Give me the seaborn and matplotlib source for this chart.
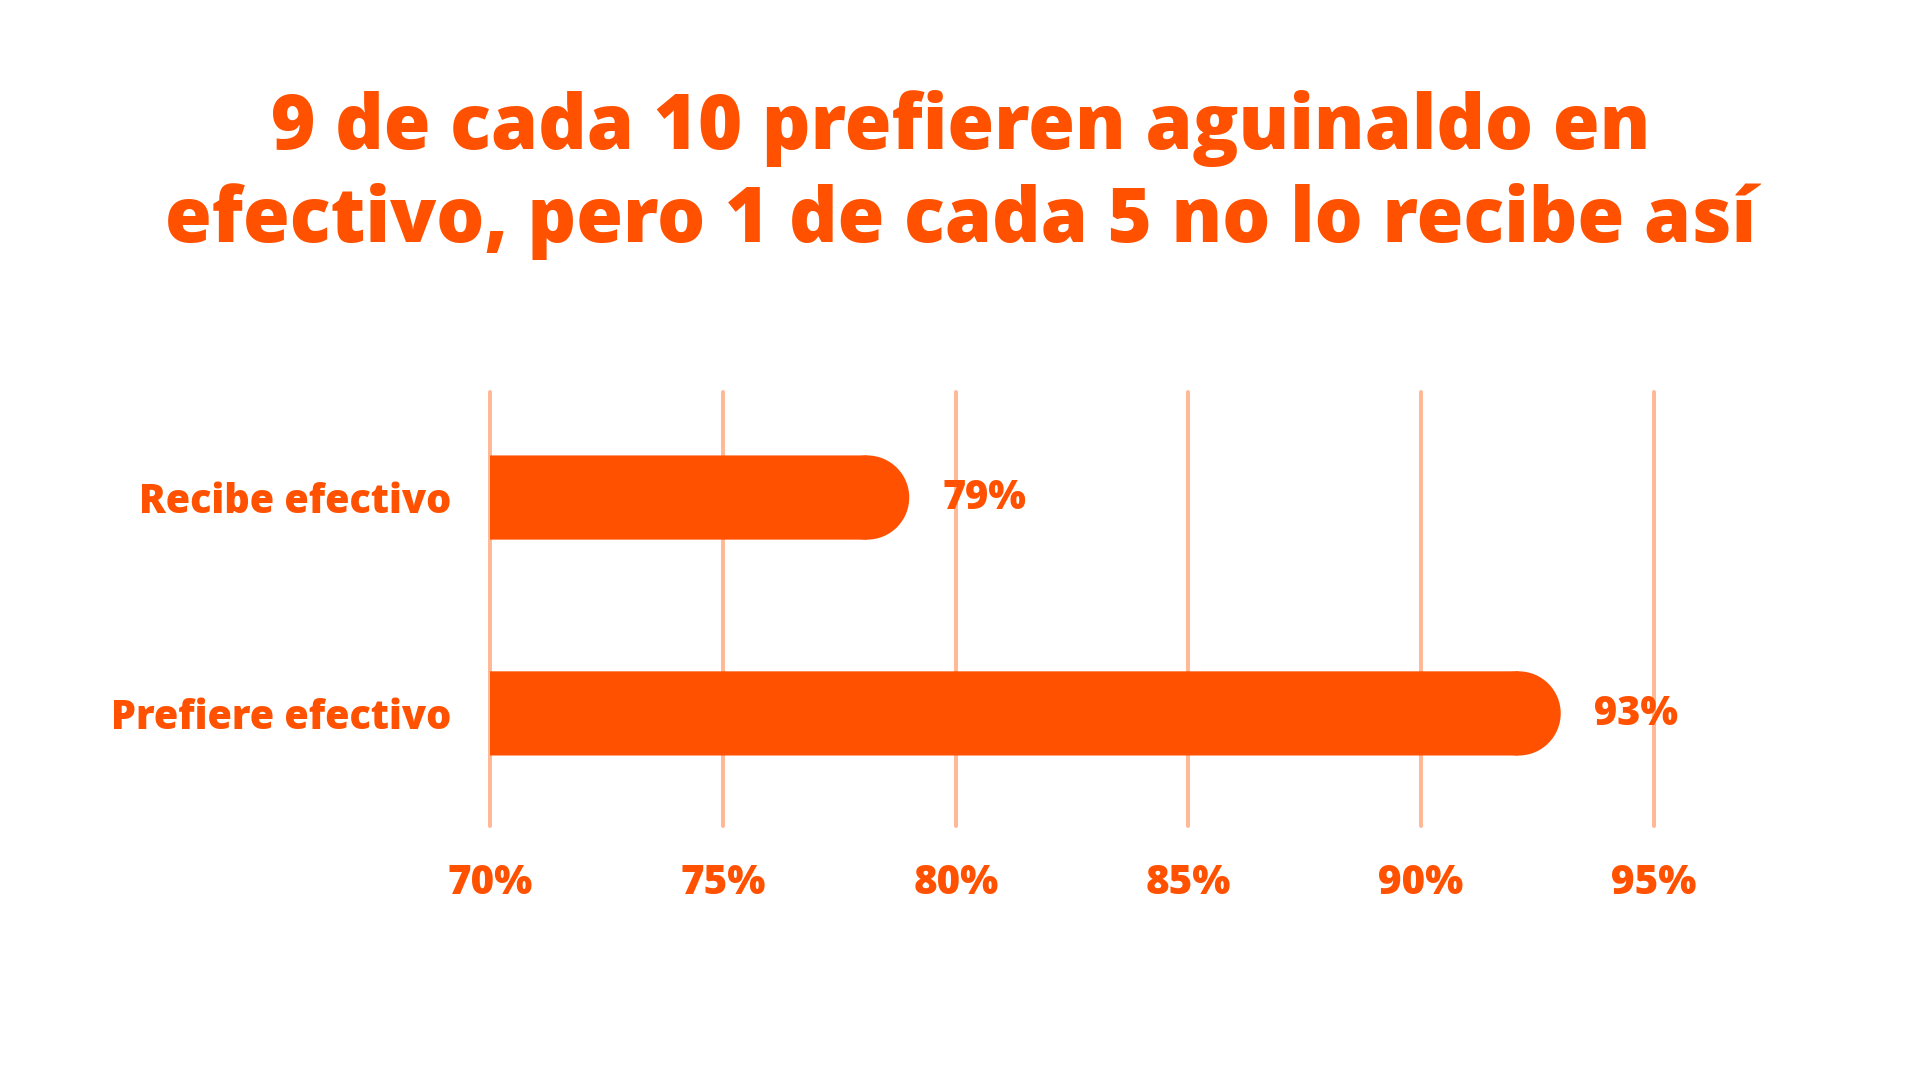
import pandas as pd
import seaborn as sns
import matplotlib.pyplot as plt
from matplotlib.patches import Ellipse

title_lines = ["9 de cada 10 prefieren aguinaldo en",
               "efectivo, pero 1 de cada 5 no lo recibe así"]
categories = ["Recibe efectivo", "Prefiere efectivo"]
values = [79, 93]
xticks = [70, 75, 80, 85, 90, 95]
xtick_labels = ["70%", "75%", "80%", "85%", "90%", "95%"]

orange = "#FF5100"
light = "#FFB996"

df = pd.DataFrame({"cat": categories, "val": values})

sns.set_style("white")
plt.rcParams['font.family'] = ['Open Sans', 'DejaVu Sans']

fig = plt.figure(figsize=(19.21, 10.81), dpi=100)
ax = fig.add_axes([0.2553, 0.236, 0.6056, 0.4014])

sns.barplot(data=df, x="val", y="cat", orient="h", color=orange,
            saturation=1, width=0.39, linewidth=0, ax=ax)

ax.set_xlim(70, 95)
ax.set_ylim(1.521, -0.489)
ax.set_xticks(xticks)
ax.set_xticklabels(xtick_labels)
ax.set_xlabel("")
ax.set_ylabel("")
for s in ax.spines.values():
    s.set_visible(False)
ax.grid(axis="x", color=light, linewidth=2.9)
ax.grid(axis="y", visible=False)
ax.set_axisbelow(True)
for gl in ax.get_xgridlines():
    gl.set_clip_on(False)
ax.tick_params(axis="x", length=0, pad=27, labelsize=29, labelcolor=orange)
ax.tick_params(axis="y", length=0, pad=28, labelsize=28.5, labelcolor=orange)
for lab in ax.get_xticklabels() + ax.get_yticklabels():
    lab.set_fontweight("heavy")

# rounded right end on each bar
fig.canvas.draw()
px_per_x = ax.transData.transform((1, 0))[0] - ax.transData.transform((0, 0))[0]
for bar, v in zip(ax.patches, values):
    h = bar.get_height()
    bar_px = abs(ax.transData.transform((0, h))[1] - ax.transData.transform((0, 0))[1])
    rx = bar_px / 2 / px_per_x
    yc = bar.get_y() + h / 2
    bar.set_width(v - rx)
    bar.set_snap(False)
    end = Ellipse((v - rx, yc), 2 * rx, h, facecolor=orange, edgecolor="none")
    end.set_snap(False)
    ax.add_patch(end)
    ax.annotate(f"{v}%", (v, yc), xytext=(24, -1), textcoords="offset points",
                ha="left", va="center", fontsize=28.5, fontweight="heavy", color=orange)

fig.text(0.5, 0.8622, title_lines[0], ha="center", va="baseline",
         fontsize=54.5, fontweight="heavy", color=orange)
fig.text(0.5, 0.7761, title_lines[1], ha="center", va="baseline",
         fontsize=54.5, fontweight="heavy", color=orange)

plt.savefig("out.png", dpi=100, facecolor="white")
